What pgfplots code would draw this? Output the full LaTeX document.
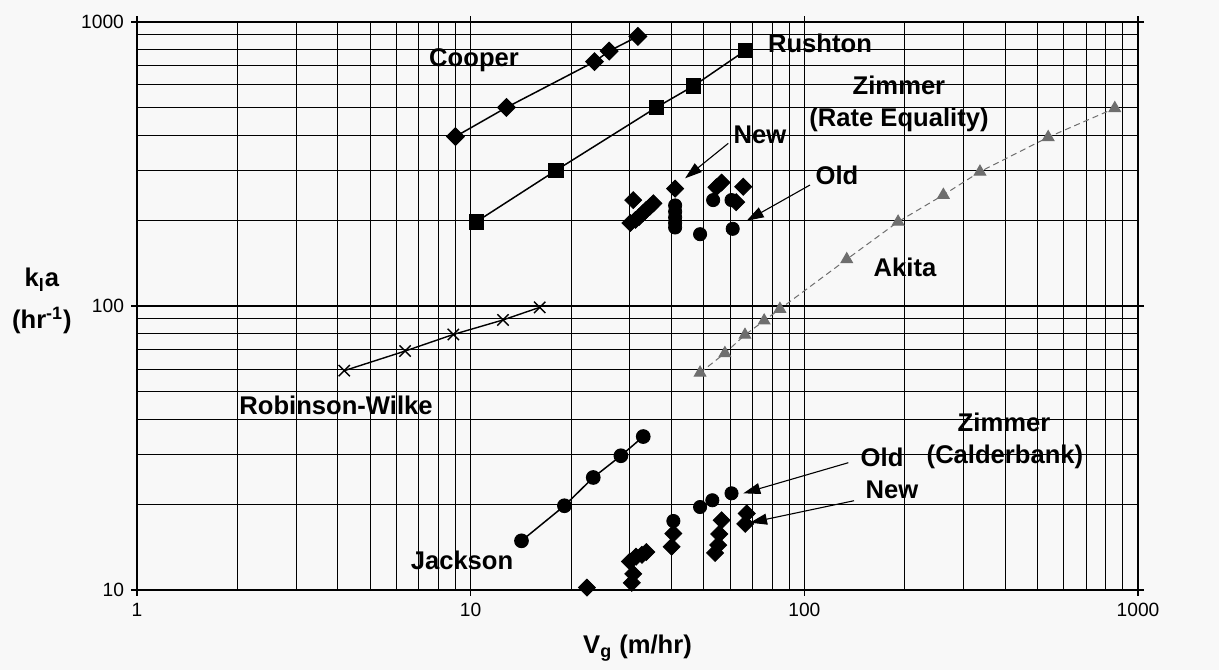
\documentclass[border=0pt]{standalone}
\usepackage{fontspec}
\setmainfont{Liberation Sans}
\usepackage{pgfplots}
\pgfplotsset{compat=1.18}
\usetikzlibrary{arrows.meta}
\definecolor{paper}{RGB}{248,248,248}
\definecolor{akgray}{RGB}{110,110,110}
\tikzset{
  lbl/.style={font=\fontsize{12.8}{15}\selectfont\bfseries, inner sep=0pt},
  arr/.style={black, line width=0.55pt, -{Triangle[length=8.5pt,width=5.5pt]}},
}

\begin{document}
\begin{tikzpicture}
\fill[paper] (-68.5pt,-40pt) rectangle (541pt,295pt);
\begin{axis}[
  at={(0,0)}, anchor=south west,
  scale only axis, width=500.5pt, height=284pt,
  xmode=log, ymode=log,
  xmin=1, xmax=1000, ymin=10, ymax=1000,
  log ticks with fixed point,
  /pgf/number format/1000 sep={},
  /pgf/number format/assume math mode=true,
  ticklabel style={font=\fontsize{9.6}{11}\selectfont},
  grid=both,
  major grid style={black, line width=0.6pt},
  minor grid style={black, line width=0.5pt},
  axis line style={black, line width=1pt},
  tick align=outside,
  major tick length=3pt, minor tick length=0pt,
  tick style={black, line width=0.6pt},
  every axis x label/.style={at={(axis description cs:0.5,-0.102)}, anchor=center},
  every axis y label/.style={at={(axis description cs:-0.095,0.509)}, anchor=center, align=center},
  label style={font=\fontsize{12.8}{21}\selectfont\bfseries},
  xlabel={V\textsubscript{g} (m/hr)},
  ylabel={k\textsubscript{l}a\\(hr\textsuperscript{-1})},
  clip=true,
]
% Cooper
\addplot[black, line width=0.75pt, mark=square*, mark size=3pt, mark options={rotate=45}]
  coordinates {(9.0,395) (12.8,500) (23.5,725) (26,790) (31.7,890)};
% Rushton
\addplot[black, line width=0.75pt, mark=square*, mark size=3.5pt]
  coordinates {(10.4,198) (18,300) (36,500) (46.5,595) (66.7,795)};
% Robinson-Wilke
\addplot[black, line width=0.7pt, mark=x, mark size=4pt]
  coordinates {(4.18,59.2) (6.36,69.4) (8.87,79.4) (12.5,89.3) (16.1,98.9)};
% Akita
\addplot[akgray, line width=0.5pt, densely dashed, mark=triangle*, mark size=3.3pt, mark options={solid}]
  coordinates {(48.7,58.2) (57.8,68.2) (66.4,79.1) (75.8,88.8) (84.5,97.6) (134,146)
               (191,198) (261,246) (336,297) (538,393) (852,497)};
% Jackson
\addplot[black, line width=0.75pt, mark=*, mark size=3.3pt]
  coordinates {(14.2,14.9) (19.1,19.8) (23.3,24.9) (28.2,29.7) (32.9,34.7)};
% Zimmer (Rate Equality): old and new
\addplot[only marks, black, mark=*, mark size=3.3pt]
  coordinates {(41,226) (41,215) (41,205) (41,196) (41,189) (48.7,179)
               (53.3,236) (60.5,236) (61,187)};
\addplot[only marks, black, mark=square*, mark size=3pt, mark options={rotate=45}]
  coordinates {(30.7,236) (30.1,196) (31.2,201) (32,206) (32.8,212) (33.6,218)
               (34.5,224) (35.3,230) (41,259) (54.5,262) (56.5,272) (62.5,232) (65.6,263)};
% Zimmer (Calderbank): old and new
\addplot[only marks, black, mark=*, mark size=3.3pt]
  coordinates {(40.5,17.5) (48.7,19.6) (53,20.7) (60.5,21.9)};
\addplot[only marks, black, mark=square*, mark size=3pt, mark options={rotate=45}]
  coordinates {(22.3,10.2) (30.4,10.6) (30.7,11.4) (30,12.6) (31.3,13.1) (32.6,13.3)
               (33.6,13.6) (40.5,15.8) (40,14.2) (56.5,17.6) (55.6,15.75) (55.2,14.4)
               (54,13.5) (67.2,18.6) (66.5,17.1)};

% curve names
\node[lbl] at (rel axis cs:0.3367,0.9331) {Cooper};
\node[lbl] at (rel axis cs:0.6823,0.963) {Rushton};
\node[lbl] at (rel axis cs:0.7612,0.889) {Zimmer};
\node[lbl] at (rel axis cs:0.7612,0.8275) {(Rate Equality)};
\node[lbl] at (rel axis cs:0.6224,0.801) {New};
\node[lbl] at (rel axis cs:0.6993,0.7306) {Old};
\node[lbl] at (rel axis cs:0.7672,0.5687) {Akita};
\node[lbl] at (rel axis cs:0.1988,0.3257) {Robinson-Wilke};
\node[lbl] at (rel axis cs:0.8661,0.2958) {Zimmer};
\node[lbl] at (rel axis cs:0.8671,0.2342) {(Calderbank)};
\node[lbl] at (rel axis cs:0.7443,0.2342) {Old};
\node[lbl] at (rel axis cs:0.7542,0.1761) {New};
\node[lbl] at (rel axis cs:0.3247,0.0528) {Jackson};

% pointers
\draw[arr] (rel axis cs:0.5907,0.7864) -- (rel axis cs:0.5475,0.7248);
\draw[arr] (rel axis cs:0.6723,0.713) -- (rel axis cs:0.6091,0.6502);
\draw[arr] (rel axis cs:0.7106,0.2241) -- (rel axis cs:0.6057,0.1702);
\draw[arr] (rel axis cs:0.7163,0.1572) -- (rel axis cs:0.6124,0.1185);
\end{axis}
\pgfresetboundingbox
\useasboundingbox (-68.5pt,-40pt) rectangle (541pt,295pt);
\end{tikzpicture}
\end{document}
